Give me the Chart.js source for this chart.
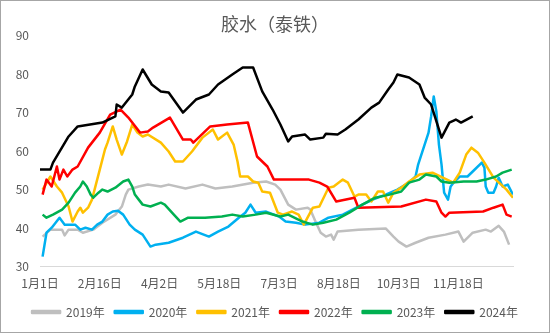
<!DOCTYPE html>
<html>
<head>
<meta charset="utf-8">
<script src="https://cdn.jsdelivr.net/npm/chart.js@4"></script>
<style>
    html, body { margin: 0; padding: 0; background: #fff; }
    #box { width: 548px; height: 331px; border: 1px solid #a6a6a6; }
</style>
</head>
<body>
<div id="box"><canvas id="rubber" width="548" height="331"></canvas></div>
<script>
// Series names and colours
const YEARS  = ['2019年', '2020年', '2021年', '2022年', '2023年', '2024年'];
const COLORS = ['#BFBFBF', '#00B0F0', '#FFC000', '#FF0000', '#00B050', '#000000'];

// x axis: day of year, labelled every 46 days
const TICK_DAYS   = [0, 46, 92, 138, 184, 230, 276, 322];
const TICK_LABELS = ['1月1日', '2月16日', '4月2日', '5月18日', '7月3日', '8月18日', '10月3日', '11月18日'];

// [day of year, price]
const Y2019 = [
    [2, 37.8], [8, 39.6], [17, 39.6], [19, 38.1], [22, 39.6], [29, 39.6], [33, 38.8],
    [41, 39.6], [48, 41.4], [58, 43.5], [63, 45.6], [66, 48.7], [68, 50.0], [76, 50.8],
    [83, 51.3], [93, 50.8], [99, 51.3], [112, 50.3], [125, 51.3], [135, 50.3], [148, 50.8],
    [164, 51.8], [174, 52.1], [181, 51.3], [185, 50.0], [191, 46.1], [197, 44.8], [206, 45.3],
    [208, 44.8], [212, 41.7], [216, 38.8], [220, 37.8], [224, 38.3], [226, 37.0], [229, 39.1],
    [245, 39.6], [266, 39.9], [272, 37.8], [276, 36.5], [282, 35.2], [289, 36.2], [299, 37.5],
    [312, 38.3], [322, 39.1], [326, 36.5], [333, 38.8], [343, 39.6], [347, 39.1], [353, 40.6],
    [357, 39.1], [361, 35.7]
];
const Y2020 = [
    [2, 32.6], [5, 38.8], [9, 40.1], [15, 42.7], [19, 40.9], [27, 40.9], [31, 39.6],
    [35, 40.1], [40, 39.6], [44, 40.9], [48, 41.7], [52, 43.5], [56, 44.3], [60, 44.5],
    [64, 43.5], [69, 40.9], [73, 39.6], [79, 38.3], [85, 35.2], [89, 35.7], [99, 36.2],
    [110, 37.5], [120, 39.1], [130, 37.8], [137, 39.1], [145, 40.4], [153, 42.7], [158, 44.0],
    [162, 46.1], [166, 44.0], [174, 44.3], [184, 43.0], [189, 41.7], [197, 41.4], [204, 40.9],
    [215, 41.4], [222, 42.7], [233, 43.5], [245, 45.6], [256, 47.4], [266, 48.7], [275, 50.0],
    [284, 51.8], [289, 53.4], [291, 56.5], [299, 64.8], [301, 69.0], [303, 74.2], [305, 70.3],
    [307, 61.7], [309, 56.5], [311, 49.2], [314, 47.4], [316, 50.8], [319, 52.1], [323, 53.4],
    [329, 53.4], [333, 54.7], [340, 57.0], [342, 55.7], [343, 50.8], [345, 49.2], [349, 49.2],
    [351, 50.8], [353, 53.1], [356, 50.8], [360, 51.3], [364, 48.7]
];
const Y2021 = [
    [2, 50.0], [8, 53.4], [13, 50.8], [17, 49.2], [22, 45.6], [25, 41.7], [29, 44.3],
    [31, 45.3], [33, 44.0], [37, 45.3], [40, 47.4], [42, 50.0], [46, 55.2], [50, 60.4],
    [52, 62.2], [56, 66.4], [59, 63.0], [63, 59.1], [67, 62.5], [71, 66.9], [75, 64.8],
    [79, 63.8], [83, 64.3], [93, 62.2], [99, 59.9], [104, 57.3], [110, 57.3], [117, 59.9],
    [125, 63.5], [133, 65.6], [137, 63.0], [144, 64.8], [149, 61.7], [152, 57.3], [154, 53.4],
    [160, 53.4], [164, 52.1], [168, 51.8], [171, 49.5], [177, 49.2], [183, 44.0], [187, 43.5],
    [194, 44.3], [199, 43.5], [203, 40.9], [210, 45.3], [215, 45.6], [222, 50.5], [226, 50.8],
    [233, 52.6], [237, 51.8], [242, 48.2], [245, 48.7], [251, 48.7], [255, 46.9], [260, 49.5],
    [264, 49.5], [268, 46.6], [272, 49.2], [278, 50.5], [284, 52.1], [292, 53.9], [302, 54.4],
    [310, 53.1], [318, 51.8], [323, 54.4], [328, 59.1], [332, 60.9], [337, 59.6], [342, 57.0],
    [349, 53.1], [359, 50.0], [364, 47.9]
];
const Y2022 = [
    [2, 48.7], [5, 52.6], [9, 50.8], [13, 56.0], [15, 52.6], [18, 55.2], [21, 53.4],
    [25, 55.2], [29, 56.0], [37, 60.9], [46, 64.8], [54, 69.5], [62, 70.8], [68, 68.7],
    [77, 64.8], [83, 65.1], [87, 66.1], [100, 68.7], [110, 63.0], [116, 63.0], [118, 62.2],
    [131, 66.4], [144, 66.9], [160, 67.4], [167, 58.6], [175, 56.0], [180, 52.6], [207, 52.6],
    [215, 51.8], [221, 50.8], [228, 46.9], [242, 47.9], [245, 45.3], [278, 45.6], [297, 47.4],
    [305, 46.9], [309, 44.0], [312, 43.0], [315, 44.0], [341, 44.3], [349, 45.3], [356, 46.1],
    [359, 43.5], [363, 43.0]
];
const Y2023 = [
    [2, 43.5], [5, 42.7], [10, 43.5], [17, 44.8], [22, 46.6], [27, 49.2], [31, 50.8],
    [33, 52.1], [36, 50.8], [39, 48.7], [41, 47.9], [45, 49.2], [48, 50.0], [52, 49.5],
    [58, 50.5], [64, 52.1], [68, 52.6], [71, 50.8], [73, 48.7], [76, 47.4], [79, 46.1],
    [85, 45.6], [93, 46.6], [96, 46.1], [103, 43.5], [108, 41.7], [114, 42.7], [127, 42.7],
    [140, 43.0], [148, 43.5], [156, 43.0], [166, 43.5], [174, 44.0], [185, 43.0], [191, 43.5],
    [202, 41.7], [210, 40.9], [218, 41.4], [228, 42.2], [238, 44.0], [248, 46.1], [258, 47.9],
    [269, 48.7], [278, 49.5], [284, 51.8], [292, 52.6], [297, 53.9], [305, 53.4], [309, 52.1],
    [315, 51.8], [326, 52.1], [336, 52.1], [343, 52.6], [351, 53.4], [356, 54.4], [363, 55.2]
];
const Y2024 = [
    [0, 55.2], [8, 55.2], [10, 57.0], [22, 63.8], [29, 66.4], [48, 67.4], [58, 69.0],
    [59, 72.1], [63, 71.3], [71, 74.7], [73, 76.8], [79, 81.2], [86, 77.3], [93, 75.5],
    [99, 75.2], [110, 70.0], [120, 73.4], [130, 74.7], [137, 77.3], [148, 79.9], [156, 81.7],
    [164, 81.7], [171, 75.5], [179, 70.8], [185, 66.9], [191, 62.5], [194, 63.8], [204, 64.3],
    [208, 63.0], [218, 63.5], [220, 64.5], [229, 64.3], [235, 65.6], [245, 68.2], [255, 71.3],
    [261, 72.6], [268, 76.0], [272, 77.8], [275, 79.9], [284, 79.1], [292, 77.3], [296, 73.9],
    [301, 72.1], [309, 63.5], [315, 67.4], [320, 68.2], [324, 67.4], [333, 69.0]
];

const SERIES = [Y2019, Y2020, Y2021, Y2022, Y2023, Y2024];

const TEXT = '#595959';
const FONT = "'Noto Sans CJK SC', 'Noto Sans', sans-serif";

function build_datasets() {
    return SERIES.map((s, i) => ({
        label: YEARS[i],
        data: s.map(p => ({ x: p[0], y: p[1] })),
        borderColor: COLORS[i],
        backgroundColor: COLORS[i],
        borderWidth: 2.5,
        pointRadius: 0,
        tension: 0,
        borderJoinStyle: 'round',
        order: SERIES.length - i   // later years drawn on top
    }));
}

window.onload = () => {
    new Chart(document.getElementById('rubber'), {
        type: 'line',
        data: { datasets: build_datasets() },
        options: {
            responsive: false,
            animation: false,
            layout: { padding: { left: 0, right: 0, top: 0, bottom: 4 } },
            plugins: {
                title: {
                    display: true,
                    text: '胶水（泰铁）',
                    color: TEXT,
                    font: { family: FONT, size: 18, weight: 'normal', lineHeight: 1.2 },
                    padding: { top: 12, bottom: 1 }
                },
                legend: {
                    position: 'bottom',
                    labels: {
                        color: TEXT,
                        font: { family: FONT, size: 12 },
                        boxWidth: 28,
                        boxHeight: 2,
                        padding: 10,
                        sort: (a, b) => a.datasetIndex - b.datasetIndex
                    }
                },
                tooltip: { enabled: false }
            },
            scales: {
                x: {
                    type: 'linear',
                    min: 0,
                    max: 364,
                    afterBuildTicks: axis => {
                        axis.ticks = TICK_DAYS.map(v => ({ value: v }));
                    },
                    afterFit: axis => {
                        // room on the right of the plot, and a tighter gap to the legend
                        axis.paddingRight = 36;
                        axis.height = axis.height - 5;
                    },
                    grid: { display: false, drawTicks: false },
                    border: { display: true, color: '#D9D9D9', width: 1 },
                    ticks: {
                        autoSkip: false,
                        maxRotation: 0,
                        padding: 10,
                        color: TEXT,
                        font: { family: FONT, size: 12 },
                        callback: v => TICK_LABELS[TICK_DAYS.indexOf(v)]
                    }
                },
                y: {
                    min: 30,
                    max: 90,
                    afterFit: axis => { axis.width = 39; },
                    grid: { display: false, drawTicks: false },
                    border: { display: false },
                    ticks: {
                        stepSize: 10,
                        padding: 11,
                        color: TEXT,
                        font: { family: FONT, size: 12 }
                    }
                }
            }
        }
    });
}
</script>
</body>
</html>
